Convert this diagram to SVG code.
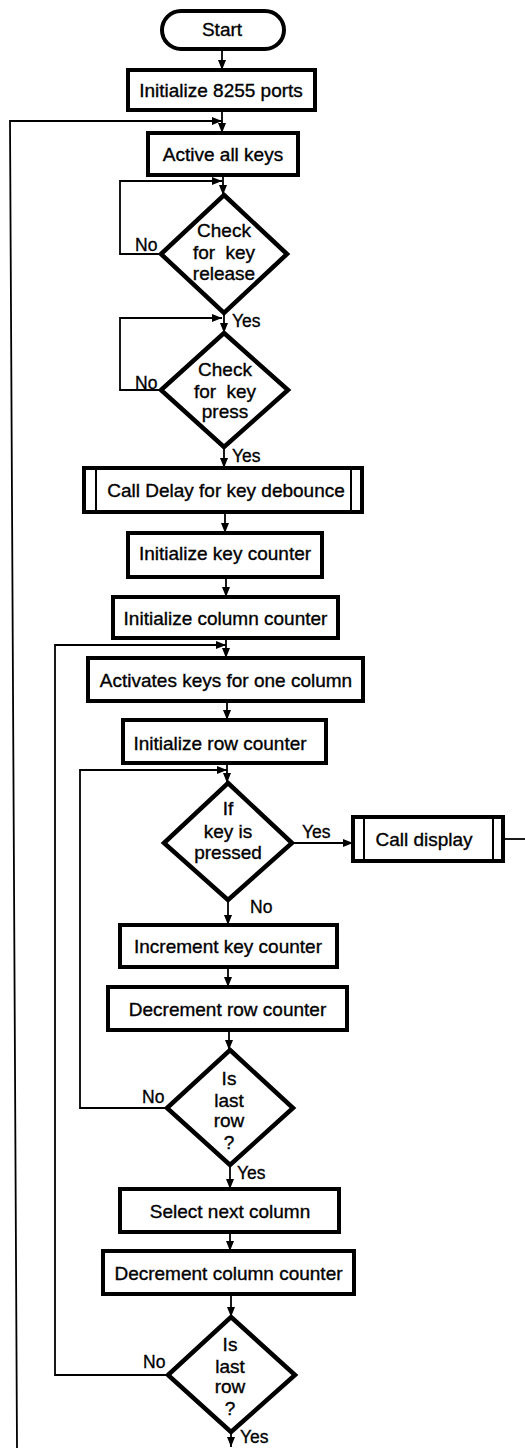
<svg xmlns="http://www.w3.org/2000/svg" width="525" height="1448" viewBox="0 0 525 1448">
  <style>
    .box { fill: #fff; stroke: #000; stroke-width: 4; }
    .dia { fill: #fff; stroke: #000; stroke-width: 4.5; stroke-linejoin: miter; }
    .inner { stroke: #000; stroke-width: 2; }
    .edge { fill: none; stroke: #000; stroke-width: 1.8; }
    .t { font-family: "Liberation Sans", Arial, sans-serif; font-size: 19px; fill: #000; stroke: #000; stroke-width: 0.35; text-anchor: middle; }
    .lbl { font-family: "Liberation Sans", Arial, sans-serif; font-size: 17.5px; fill: #000; stroke: #000; stroke-width: 0.3; }
    .wide { word-spacing: 5px; }
  </style>
  <defs>
    <marker id="arrow" markerUnits="userSpaceOnUse" markerWidth="10" markerHeight="8" refX="10" refY="4" orient="auto">
      <path d="M0,0 L10,4 L0,8 Z" fill="#000"/>
    </marker>
  </defs>

  <rect width="525" height="1448" fill="#fff"/>

  <!-- connectors -->
  <g id="connectors">
    <path class="edge" d="M222,49 V70" marker-end="url(#arrow)"/>
    <path class="edge" d="M222,110 V133" marker-end="url(#arrow)"/>
    <path class="edge" d="M17,1448 L10,121 H222" marker-end="url(#arrow)"/>
    <path class="edge" d="M223,175 V195" marker-end="url(#arrow)"/>
    <path class="edge" d="M161,254 H120 V181 H222" marker-end="url(#arrow)"/>
    <path class="edge" d="M224,313 V333" marker-end="url(#arrow)"/>
    <path class="edge" d="M161,390 H120 V318 H222" marker-end="url(#arrow)"/>
    <path class="edge" d="M224,447 V468" marker-end="url(#arrow)"/>
    <path class="edge" d="M225,512 V533" marker-end="url(#arrow)"/>
    <path class="edge" d="M226,577 V597" marker-end="url(#arrow)"/>
    <path class="edge" d="M226,638 V658" marker-end="url(#arrow)"/>
    <path class="edge" d="M168,1375 H55 V645 H226" marker-end="url(#arrow)"/>
    <path class="edge" d="M227,701 V720" marker-end="url(#arrow)"/>
    <path class="edge" d="M227,763 V783" marker-end="url(#arrow)"/>
    <path class="edge" d="M167,1108 H80 V770 H227" marker-end="url(#arrow)"/>
    <path class="edge" d="M292,843 H353" marker-end="url(#arrow)"/>
    <path class="edge" d="M503,839 H525"/>
    <path class="edge" d="M228,900 V925" marker-end="url(#arrow)"/>
    <path class="edge" d="M228,967 V987" marker-end="url(#arrow)"/>
    <path class="edge" d="M229,1030 V1050" marker-end="url(#arrow)"/>
    <path class="edge" d="M230,1165 V1189" marker-end="url(#arrow)"/>
    <path class="edge" d="M230,1232 V1251" marker-end="url(#arrow)"/>
    <path class="edge" d="M231,1294 V1317" marker-end="url(#arrow)"/>
    <path class="edge" d="M231,1432 V1447" marker-end="url(#arrow)"/>
    <!-- branch labels -->
    <text class="lbl" x="135" y="251">No</text>
    <text class="lbl" x="232" y="327">Yes</text>
    <text class="lbl" x="135" y="389">No</text>
    <text class="lbl" x="232" y="462">Yes</text>
    <text class="lbl" x="302" y="838">Yes</text>
    <text class="lbl" x="250" y="913">No</text>
    <text class="lbl" x="142" y="1103">No</text>
    <text class="lbl" x="237" y="1179">Yes</text>
    <text class="lbl" x="143" y="1368">No</text>
    <text class="lbl" x="240" y="1443">Yes</text>
  </g>

  <g id="start">
    <rect class="box" x="162" y="11" width="122" height="38" rx="19" stroke-width="3.5"/>
    <text class="t" x="222" y="36" font-size="18">Start</text>
  </g>

  <g id="init-ports">
    <rect class="box" x="128" y="70" width="187" height="40"/>
    <text class="t" x="221" y="97">Initialize 8255 ports</text>
  </g>

  <g id="activate-all">
    <rect class="box" x="148" y="133" width="150" height="42"/>
    <text class="t" x="223" y="161">Active all keys</text>
  </g>

  <g id="check-release">
    <polygon class="dia" points="224,195 287,254 224,313 161,254"/>
    <text class="t" x="224" y="237">Check</text>
    <text class="t wide" x="224" y="259">for key</text>
    <text class="t" x="224" y="280">release</text>
  </g>

  <g id="check-press">
    <polygon class="dia" points="224,333 288,390 224,447 161,390"/>
    <text class="t" x="225" y="376">Check</text>
    <text class="t wide" x="225" y="398">for key</text>
    <text class="t" x="225" y="418">press</text>
  </g>

  <g id="call-delay">
    <rect class="box" x="84" y="468" width="278" height="44"/>
    <line class="inner" x1="96" y1="468" x2="96" y2="512"/>
    <line class="inner" x1="351" y1="468" x2="351" y2="512"/>
    <text class="t" x="226" y="497">Call Delay for key debounce</text>
  </g>

  <g id="init-key-counter">
    <rect class="box" x="128" y="533" width="194" height="44"/>
    <text class="t" x="225" y="560">Initialize key counter</text>
  </g>

  <g id="init-column-counter">
    <rect class="box" x="113" y="597" width="225" height="41"/>
    <text class="t" x="225.5" y="625">Initialize column counter</text>
  </g>

  <g id="activate-column">
    <rect class="box" x="88" y="658" width="275" height="43"/>
    <text class="t" x="226" y="687">Activates keys for one column</text>
  </g>

  <g id="init-row-counter">
    <rect class="box" x="123" y="720" width="203" height="43"/>
    <text class="t" x="220" y="750">Initialize row counter</text>
  </g>

  <g id="key-pressed">
    <polygon class="dia" points="228,783 292,843 228,900 164,843"/>
    <text class="t" x="228" y="815">If</text>
    <text class="t" x="228" y="838">key is</text>
    <text class="t" x="228" y="859">pressed</text>
  </g>

  <g id="call-display">
    <rect class="box" x="353" y="817" width="150" height="44"/>
    <line class="inner" x1="364" y1="817" x2="364" y2="861"/>
    <line class="inner" x1="493" y1="817" x2="493" y2="861"/>
    <text class="t" x="424" y="846">Call display</text>
  </g>

  <g id="inc-key-counter">
    <rect class="box" x="120" y="925" width="217" height="42"/>
    <text class="t" x="228" y="953">Increment key counter</text>
  </g>

  <g id="dec-row-counter">
    <rect class="box" x="108" y="987" width="239" height="43"/>
    <text class="t" x="227.5" y="1016">Decrement row counter</text>
  </g>

  <g id="last-row">
    <polygon class="dia" points="230,1050 293,1108 230,1165 167,1108"/>
    <text class="t" x="229" y="1085">Is</text>
    <text class="t" x="229" y="1107">last</text>
    <text class="t" x="229" y="1127">row</text>
    <text class="t" x="229" y="1149">?</text>
  </g>

  <g id="select-next-column">
    <rect class="box" x="120" y="1189" width="219" height="43"/>
    <text class="t" x="230" y="1218">Select next column</text>
  </g>

  <g id="dec-column-counter">
    <rect class="box" x="103" y="1251" width="251" height="43"/>
    <text class="t" x="228.5" y="1280">Decrement column counter</text>
  </g>

  <g id="last-column">
    <polygon class="dia" points="231,1317 295,1375 231,1432 168,1375"/>
    <text class="t" x="230" y="1351">Is</text>
    <text class="t" x="230" y="1373">last</text>
    <text class="t" x="230" y="1393">row</text>
    <text class="t" x="230" y="1415">?</text>
  </g>
</svg>
